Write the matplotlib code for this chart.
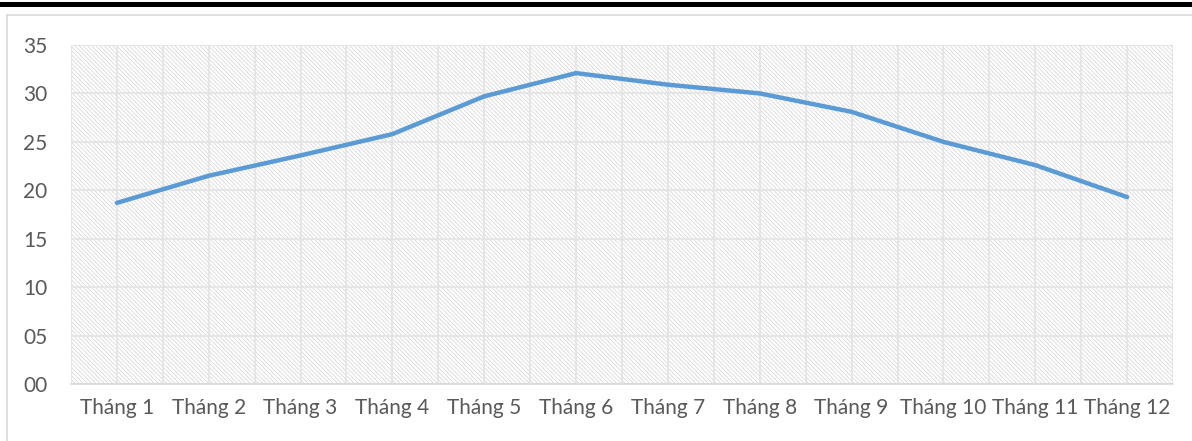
import matplotlib.pyplot as plt
from matplotlib.patches import Rectangle
from matplotlib.lines import Line2D

# Dữ liệu
thang = ['Tháng 1', 'Tháng 2', 'Tháng 3', 'Tháng 4', 'Tháng 5', 'Tháng 6',
         'Tháng 7', 'Tháng 8', 'Tháng 9', 'Tháng 10', 'Tháng 11', 'Tháng 12']
gia_tri = [18.7, 21.5, 23.6, 25.8, 29.7, 32.1, 30.9, 30.0, 28.1, 25.0, 22.6, 19.3]
y_ticks = [0, 5, 10, 15, 20, 25, 30, 35]

plt.rcParams['font.family'] = ['Lato', 'DejaVu Sans']
plt.rcParams['hatch.linewidth'] = 0.6

fig = plt.figure(figsize=(11.92, 4.41), dpi=100)
W, H = 1192, 441

# thanh đen phía trên và khung biểu đồ
fig.patches.append(Rectangle((0, 1 - 6.5 / H), 1, 5 / H, transform=fig.transFigure,
                             facecolor='black', edgecolor='none'))
fig.add_artist(Line2D([7 / W, 1], [1 - 15 / H, 1 - 15 / H], color='#d9d9d9', lw=1.2))
fig.add_artist(Line2D([7 / W, 7 / W], [0, 1 - 15 / H], color='#d9d9d9', lw=1.2))

ax = fig.add_axes([71 / W, 1 - 384 / H, (1173 - 71) / W, (384 - 45) / H])

# nền gạch chéo
ax.add_patch(Rectangle((0, 0), 1, 1, transform=ax.transAxes, facecolor='white',
                       edgecolor='#d9d9d9', hatch='\\\\\\\\\\\\\\\\', lw=0, zorder=0))

x = list(range(1, len(thang) + 1))
ax.plot(x, gia_tri, color='#5b9bd5', lw=3.2, solid_joinstyle='round',
        solid_capstyle='round', zorder=3)

ax.set_xlim(0.5, len(thang) + 0.5)
ax.set_ylim(0, 35)

# lưới
for k in range(2 * len(thang) + 1):
    ax.axvline(0.5 + k * 0.5, color='#e3e3e3', lw=1.2, zorder=1)
for v in y_ticks:
    ax.axhline(v, color='#e3e3e3', lw=1.2, zorder=1)

ax.set_xticks(x)
ax.set_xticklabels(thang)
ax.set_yticks(y_ticks)
ax.set_yticklabels([f'{v:02d}' for v in y_ticks])
ax.tick_params(length=0, labelsize=15, colors='#595959')
ax.tick_params(axis='x', pad=10)
ax.tick_params(axis='y', pad=17)
for s in ['top', 'right', 'left']:
    ax.spines[s].set_visible(False)
ax.spines['bottom'].set_color('#d9d9d9')
ax.spines['bottom'].set_linewidth(1.2)

fig.savefig('out.png', dpi=100)
